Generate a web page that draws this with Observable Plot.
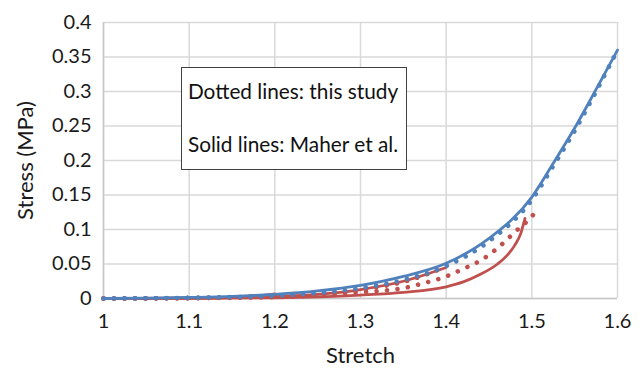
<!DOCTYPE html>
<html>
<head>
<meta charset="utf-8">
<script src="https://cdn.jsdelivr.net/npm/d3@7"></script>
<script src="https://cdn.jsdelivr.net/npm/@observablehq/plot@0.6"></script>
<style>
  html, body { margin: 0; padding: 0; background: #fff; }
  #wrap { position: relative; width: 643px; height: 368px; font-family: Lato, "Open Sans", sans-serif; }
  #note { position: absolute; border: 1px solid #404040; background: #fff; box-sizing: border-box;
          font-size: 20.8px; color: #111; line-height: 1; }
  #note div { position: absolute; left: 6px; white-space: nowrap; }
</style>
</head>
<body>
<div id="wrap"></div>
<script>
// ---- data ----
const xTicks = [1, 1.1, 1.2, 1.3, 1.4, 1.5, 1.6];
const yTicks = [0, 0.05, 0.1, 0.15, 0.2, 0.25, 0.3, 0.35, 0.4];

// Maher et al. (solid), blue
const blueSolidX = [1.00, 1.05, 1.10, 1.15, 1.20, 1.25, 1.30, 1.35, 1.40, 1.45, 1.50, 1.525, 1.55, 1.575, 1.60];
const blueSolidY = [0, 0.0005, 0.0015, 0.003, 0.006, 0.011, 0.019, 0.032, 0.051, 0.087, 0.147, 0.196, 0.247, 0.303, 0.36];
// this study (dotted), blue
const blueDotX = [1.00, 1.10, 1.20, 1.25, 1.30, 1.35, 1.40, 1.45, 1.50, 1.525, 1.55, 1.575, 1.60];
const blueDotY = [0, 0.001, 0.004, 0.008, 0.015, 0.027, 0.047, 0.083, 0.143, 0.192, 0.243, 0.3, 0.36];

// Maher et al. (solid), red, three loading curves
const redSolidAX = [1.00, 1.05, 1.10, 1.15, 1.18, 1.20];
const redSolidAY = [0, 0.0002, 0.0006, 0.0018, 0.0038, 0.0068];
const redSolidBX = [1.00, 1.10, 1.20, 1.25, 1.30, 1.35, 1.40];
const redSolidBY = [0, 0.0005, 0.003, 0.006, 0.013, 0.025, 0.045];
const redSolidCX = [1.00, 1.10, 1.20, 1.30, 1.35, 1.40, 1.42, 1.44, 1.46, 1.47, 1.48, 1.487, 1.492];
const redSolidCY = [0, 0.0002, 0.001, 0.005, 0.009, 0.017, 0.024, 0.035, 0.05, 0.061, 0.077, 0.094, 0.116];

// this study (dotted), red, three loading curves
const redDotAX = [1.00, 1.10, 1.15, 1.20];
const redDotAY = [0, 0.0005, 0.0015, 0.003];
const redDotBX = [1.00, 1.10, 1.20, 1.25, 1.30, 1.35, 1.40];
const redDotBY = [0, 0.0006, 0.004, 0.007, 0.013, 0.024, 0.046];
const redDotCX = [1.00, 1.10, 1.20, 1.30, 1.35, 1.37, 1.40, 1.42, 1.44, 1.46, 1.48, 1.50, 1.504];
const redDotCY = [0, 0.0005, 0.002, 0.009, 0.015, 0.021, 0.032, 0.043, 0.055, 0.073, 0.096, 0.119, 0.125];

const noteLines = ["Dotted lines: this study", "Solid lines: Maher et al."];

// ---- build tables ----
const toRows = (xs, ys) => xs.map((x, i) => ({x, y: ys[i]}));
const BLUE = "#4F81BD", RED = "#C0504D", GRID = "#D9D9D9";

const solid = (rows, color) => Plot.line(rows, {x: "x", y: "y", stroke: color, strokeWidth: 2.8,
  curve: "monotone-x", strokeLinecap: "round"});
const dotted = (rows, color) => Plot.line(rows, {x: "x", y: "y", stroke: color, strokeWidth: 4.6,
  curve: "monotone-x", strokeLinecap: "round", strokeDasharray: "0.01 10.5"});

const chart = Plot.plot({
  width: 643,
  height: 368,
  marginLeft: 103,
  marginRight: 26,
  marginTop: 22,
  marginBottom: 70,
  style: {fontFamily: "Lato, 'Open Sans', sans-serif", fontSize: "20px", color: "#1a1a1a", background: "#fff"},
  x: {domain: [1, 1.6]},
  y: {domain: [0, 0.4]},
  marks: [
    Plot.gridX(xTicks, {stroke: GRID, strokeOpacity: 1, strokeWidth: 1.5}),
    Plot.gridY(yTicks, {stroke: GRID, strokeOpacity: 1, strokeWidth: 1.5}),
    Plot.ruleX([1], {stroke: "#C8C8C8", strokeWidth: 1.5}),
    Plot.ruleY([0], {stroke: "#C8C8C8", strokeWidth: 1.5}),
    Plot.axisX(xTicks, {tickSize: 0, tickPadding: 15, fontSize: 20, tickFormat: d3.format("~g"),
      label: null}),
    Plot.axisY(yTicks, {tickSize: 0, tickPadding: 12, fontSize: 20, tickFormat: d3.format("~g"),
      label: null}),
    Plot.axisX({tickSize: 0, ticks: [], label: "Stretch", labelAnchor: "center", labelOffset: 64,
      labelArrow: "none", fontSize: 22}),
    Plot.axisY({tickSize: 0, ticks: [], label: "Stress (MPa)", labelAnchor: "center", labelOffset: 86,
      labelArrow: "none", fontSize: 22}),
    solid(toRows(redSolidAX, redSolidAY), RED),
    solid(toRows(redSolidBX, redSolidBY), RED),
    solid(toRows(redSolidCX, redSolidCY), RED),
    dotted(toRows(redDotAX, redDotAY), RED),
    dotted(toRows(redDotBX, redDotBY), RED),
    dotted(toRows(redDotCX, redDotCY), RED),
    solid(toRows(blueSolidX, blueSolidY), BLUE),
    dotted(toRows(blueDotX, blueDotY), BLUE)
  ]
});

const wrap = document.getElementById("wrap");
wrap.appendChild(chart);

// annotation box placed in data coordinates through the chart's scales
const sx = chart.scale("x"), sy = chart.scale("y");
const boxX = [1.091, 1.355], boxY = [0.335, 0.186];
const note = document.createElement("div");
note.id = "note";
const l = sx.apply(boxX[0]), r = sx.apply(boxX[1]), t = sy.apply(boxY[0]), b = sy.apply(boxY[1]);
note.style.left = l + "px"; note.style.top = t + "px";
note.style.width = (r - l) + "px"; note.style.height = (b - t) + "px";
noteLines.forEach((s, i) => {
  const d = document.createElement("div");
  d.textContent = s;
  d.style.top = (i === 0 ? 13 : 66) + "px";
  note.appendChild(d);
});
wrap.appendChild(note);
</script>
</body>
</html>
